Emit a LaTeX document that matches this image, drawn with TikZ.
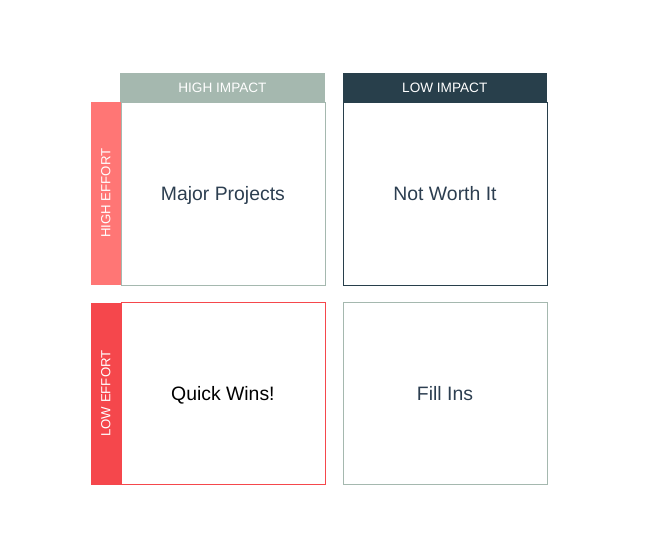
\documentclass[tikz,border=0pt]{standalone}
\usepackage{fontspec}
\setmainfont{Liberation Sans}
\definecolor{sage}{HTML}{A5B8AF}
\definecolor{navy}{HTML}{283F4B}
\definecolor{pinkred}{HTML}{FF7675}
\definecolor{brightred}{HTML}{F5474C}
\definecolor{txt}{HTML}{2C3E50}
\begin{document}
\begin{tikzpicture}[x=1pt,y=-1pt,
  header/.style={draw=none,minimum height=28.5pt,minimum width=204.5pt,inner sep=0pt,text=white,font=\fontsize{13.6}{16}\selectfont,anchor=north west},
  sidebar/.style={draw=none,minimum height=29.5pt,inner sep=0pt,text=white,font=\fontsize{13.2}{15}\selectfont,rotate=90,anchor=north east},
  cell/.style={line width=0.8pt,minimum width=204.5pt,minimum height=183pt,inner sep=0pt,text depth=0pt,anchor=north west,font=\fontsize{19.4}{22}\selectfont}]
\useasboundingbox (0,0) rectangle (650,541);
\node[header,fill=sage] (hi) at (120,73) {HIGH IMPACT};
\node[header,fill=navy] (lo) at (342.3,73) {LOW IMPACT};
\node[sidebar,fill=pinkred,minimum width=183pt] (he) at (91,101.5) {HIGH EFFORT};
\node[sidebar,fill=brightred,minimum width=182pt] (le) at (91,302.3) {LOW EFFORT};
\node[cell,draw=sage,text=txt,minimum width=204pt] (mp) at (120.5,101.5) {Major Projects};
\node[cell,draw=navy,text=txt,minimum width=204pt] (nw) at (342.6,101.5) {Not Worth It};
\node[cell,draw=brightred,text=black,minimum width=204pt,minimum height=182pt] (qw) at (120.5,302.3) {Quick Wins!};
\node[cell,draw=sage,text=txt,minimum width=204pt,minimum height=182pt] (fi) at (342.6,302.3) {Fill Ins};
\end{tikzpicture}
\end{document}
